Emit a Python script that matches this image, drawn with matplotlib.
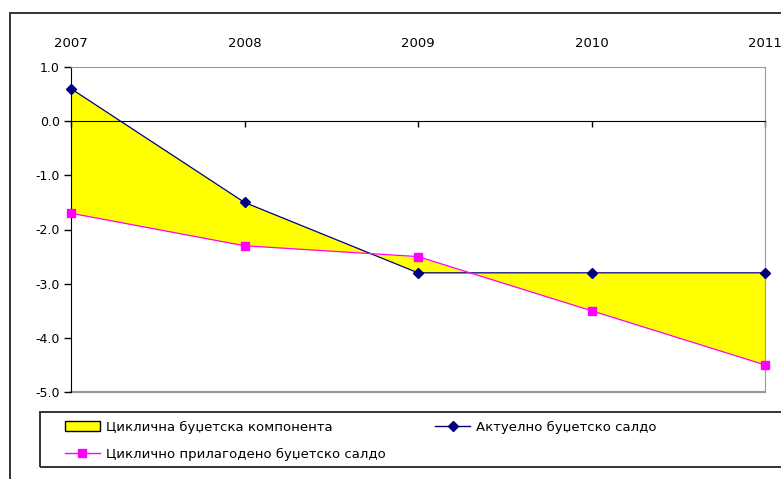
import matplotlib
matplotlib.use("Agg")
import matplotlib.pyplot as plt
from matplotlib.patches import Rectangle, Patch
from matplotlib.lines import Line2D

years = ["2007", "2008", "2009", "2010", "2011"]
actual_balance = [0.6, -1.5, -2.8, -2.8, -2.8]
adjusted_balance = [-1.7, -2.3, -2.5, -3.5, -4.5]
y_ticks = [1.0, 0.0, -1.0, -2.0, -3.0, -4.0, -5.0]

label_fill = "Циклична буџетска компонента"
label_actual = "Актуелно буџетско салдо"
label_adjusted = "Циклично прилагодено буџетско салдо"

plt.rcParams["font.family"] = ["DejaVu Sans"]

W, H = 781, 479
fig = plt.figure(figsize=(W / 100, H / 100), dpi=100)

def fx(px):
    return px / W

def fy(py):
    return 1 - py / H

# outer chart frame, running off the right and bottom edges
fig.patches.append(Rectangle((fx(10), fy(500)), fx(800), fy(13) - fy(500),
                             transform=fig.transFigure, fill=False,
                             edgecolor="#333333", linewidth=1.4))

ax = fig.add_axes([fx(71), fy(392), fx(765) - fx(71), fy(67) - fy(392)])
x = list(range(len(years)))

ax.fill_between(x, actual_balance, adjusted_balance, color="#ffff00", linewidth=0)
ax.plot(x, actual_balance, color="#000080", linewidth=0.9, marker="D",
        markersize=5.5, markerfacecolor="#000080", markeredgecolor="#000080",
        zorder=4, clip_on=False)
ax.plot(x, adjusted_balance, color="#ff00ff", linewidth=0.9, marker="s",
        markersize=6, markerfacecolor="#ff00ff", markeredgecolor="#ff00ff",
        zorder=4, clip_on=False)

ax.set_xlim(0, len(years) - 1)
ax.set_ylim(-5, 1)
ax.set_yticks(y_ticks)
ax.set_yticklabels([f"{v:.1f}" for v in y_ticks], fontsize=9)
ax.tick_params(axis="y", direction="out", length=5, width=1, color="black", pad=3)

ax.spines["bottom"].set_position(("data", 0))
ax.spines["bottom"].set_color("black")
ax.spines["left"].set_color("black")
ax.spines["top"].set_color("#999999")
ax.spines["right"].set_color("#999999")
ax.axhline(-5, color="#999999", linewidth=1.6, clip_on=False, zorder=1)
ax.set_xticks(x)
ax.set_xticklabels([])
ax.tick_params(axis="x", direction="out", length=4, width=1, color="black")

top = ax.secondary_xaxis("top")
top.set_xticks(x)
top.set_xticklabels(years, fontsize=9.5)
top.tick_params(length=0, pad=12.5)
top.spines["top"].set_visible(False)

# legend box
fig.patches.append(Rectangle((fx(40), fy(467)), fx(800) - fx(40), fy(412) - fy(467),
                             transform=fig.transFigure, fill=False,
                             edgecolor="#333333", linewidth=1.4))
handles = [
    Patch(facecolor="#ffff00", edgecolor="black", linewidth=1),
    Line2D([], [], color="#ff00ff", marker="s", markersize=6, linewidth=1),
    Line2D([], [], color="#000080", marker="D", markersize=5.5, linewidth=1),
]
labels = [label_fill, label_adjusted, label_actual]
fig.legend(handles, labels, loc="upper left", bbox_to_anchor=(fx(62), fy(418)),
           ncol=2, frameon=False, fontsize=9.5, handlelength=2.7, handleheight=0.7,
           handletextpad=0.45, labelspacing=1.05, columnspacing=3.7, numpoints=1,
           borderaxespad=0, borderpad=0.2)

fig.savefig("out.png", dpi=100)
